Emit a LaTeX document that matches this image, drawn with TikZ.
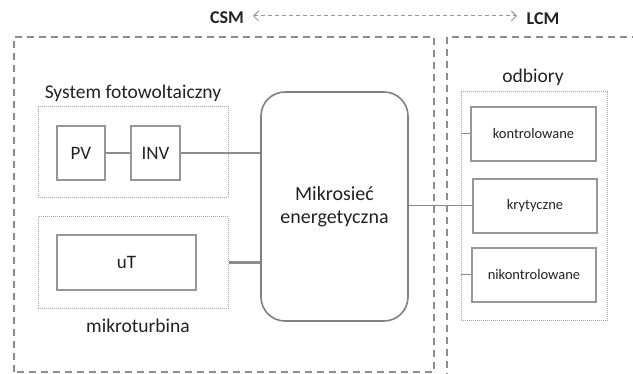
\documentclass[tikz,border=0pt]{standalone}
\usepackage{fontspec}
\setmainfont{Carlito}
\usetikzlibrary{arrows.meta}
\definecolor{ln}{HTML}{8C8C8C}
\definecolor{tx}{HTML}{222222}
\tikzset{
  region/.style={draw=ln, line width=1.2pt, dash pattern=on 7pt off 5pt},
  group/.style={draw=ln!80, line width=1pt, dash pattern=on 1pt off 1pt},
  unit/.style={draw=ln!90, line width=1.6pt, text=tx, inner sep=0pt},
  thick link/.style={draw=ln, line width=2.6pt},
  thin link/.style={draw=ln, line width=1pt},
  lbl/.style={text=tx, inner sep=0pt}
}
\begin{document}
\begin{tikzpicture}[x=1pt,y=-1pt]
\useasboundingbox (0,0) rectangle (633,374);
% regions
\draw[region] (14,372) -- (14,37) -- (434,37) -- (434,372) -- cycle;
\draw[region] (447,380) -- (447,37) -- (640,37);
\node[lbl, font=\fontsize{18}{21}\selectfont\bfseries] (csm) at (227,18) {CSM};
\node[lbl, font=\fontsize{18}{21}\selectfont\bfseries] (lcm) at (543,19) {LCM};
\coordinate (a1) at (253,16);
\coordinate (a2) at (517,16);
\draw[draw=ln!90, line width=1pt, dash pattern=on 4pt off 3pt, {Straight Barb[length=5pt,width=10pt]}-{Straight Barb[length=5pt,width=10pt]}] (a1) -- (a2);
% PV group
\node[group, minimum width=190pt, minimum height=91pt] (pvg) at (133,152) {};
\node[lbl, font=\fontsize{19.5}{23}\selectfont] (pvt) at (133,93) {System fotowoltaiczny};
\node[unit, minimum width=48pt, minimum height=54pt, font=\fontsize{19}{23}\selectfont] (pv) at (81,153) {PV};
\node[unit, minimum width=49pt, minimum height=54pt, font=\fontsize{19}{23}\selectfont] (inv) at (155.5,153) {INV};
% microturbine group
\node[group, minimum width=190pt, minimum height=92pt] (utg) at (133,263) {};
\node[unit, minimum width=139pt, minimum height=55pt, font=\fontsize{19}{23}\selectfont] (ut) at (126.5,262.5) {uT};
\node[lbl, font=\fontsize{19.5}{23}\selectfont] (utt) at (138,326) {mikroturbina};
% microgrid
\node[draw=ln!110, line width=1.6pt, rounded corners=24pt, minimum width=147pt, minimum height=229pt, align=center, text=tx, font=\fontsize{20}{23}\selectfont] (mg) at (334.5,206.5) {Mikrosieć\\energetyczna};
% loads
\node[group, minimum width=146pt, minimum height=229pt] (odg) at (534,206.5) {};
\node[lbl, font=\fontsize{19.5}{23}\selectfont] (odt) at (533,77) {odbiory};
\node[unit, minimum width=125pt, minimum height=54pt, font=\fontsize{14.5}{17}\selectfont] (k1) at (533.5,134) {kontrolowane};
\node[unit, minimum width=124pt, minimum height=54pt, font=\fontsize{14.5}{17}\selectfont] (k2) at (535,206) {krytyczne};
\node[unit, minimum width=124pt, minimum height=54pt, font=\fontsize{14.5}{17}\selectfont] (k3) at (534,275) {nikontrolowane};
% links
\draw[thick link] (pv) -- (inv);
\draw[thick link] (inv.east) -- (mg.west |- inv.east);
\draw[thick link] (utg.east |- ut.east) -- (mg.west |- ut.east);
\draw[thin link] (mg.east |- k2.west) -- (k2.west);
\draw[thin link] (odg.west |- k1.west) -- (k1.west);
\draw[thin link] (odg.west |- k3.west) -- (k3.west);
\end{tikzpicture}
\end{document}
